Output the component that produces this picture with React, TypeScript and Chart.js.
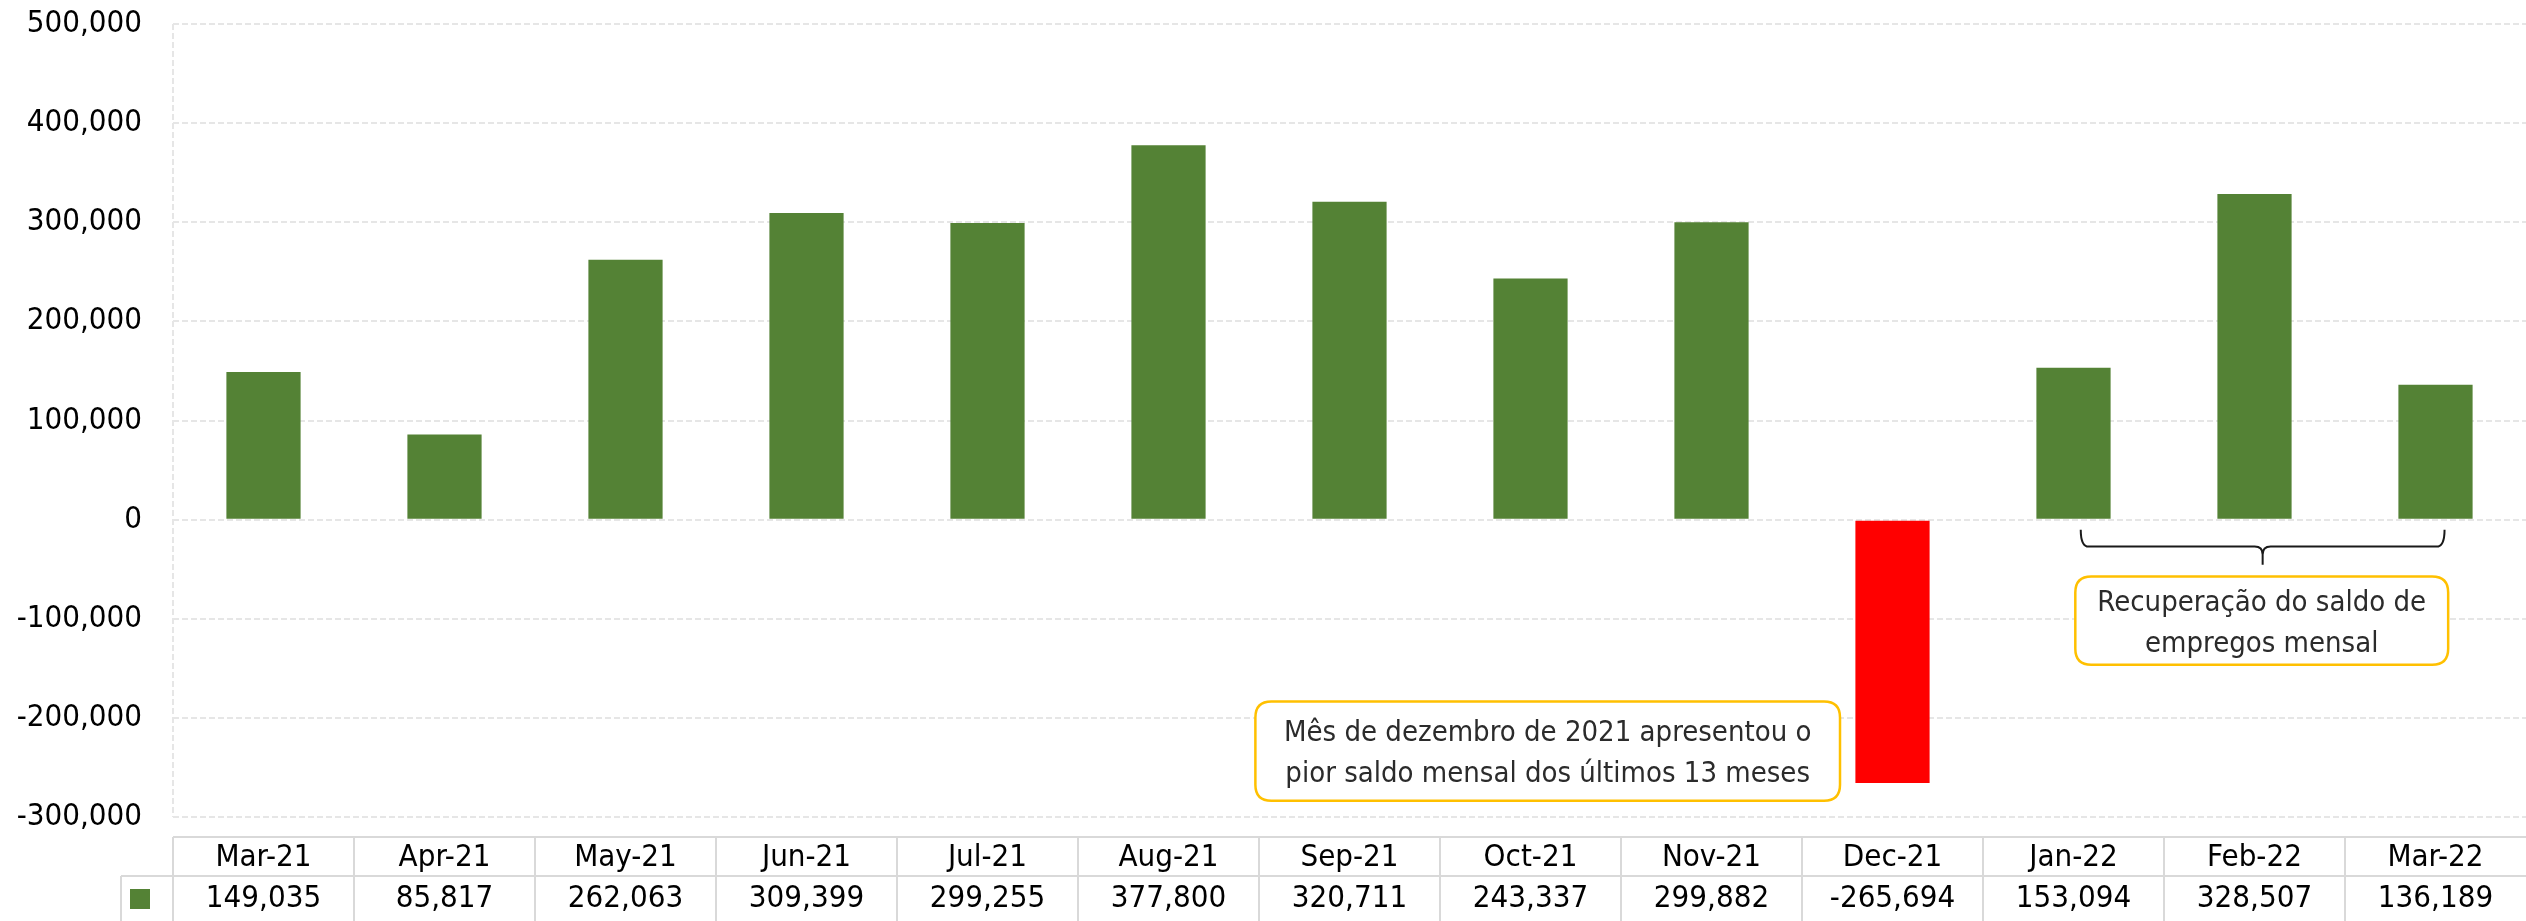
import React, { useEffect, useRef } from "react";
import { Chart, registerables } from "chart.js";

Chart.register(...registerables);

// ---- data ----
const months = [
  "Mar-21", "Apr-21", "May-21", "Jun-21", "Jul-21", "Aug-21", "Sep-21",
  "Oct-21", "Nov-21", "Dec-21", "Jan-22", "Feb-22", "Mar-22",
];
const saldo = [
  149035, 85817, 262063, 309399, 299255, 377800, 320711,
  243337, 299882, -265694, 153094, 328507, 136189,
];
const yMin = -300000;
const yMax = 500000;
const yStep = 100000;
const note1Lines = ["Mês de dezembro de 2021 apresentou o", "pior saldo mensal dos últimos 13 meses"];
const note2Lines = ["Recuperação do saldo de", "empregos mensal"];

// ---- styles ----
const GREEN = "#548235";
const RED = "#FF0000";
const GRID = "#e6e6e6";
const TABLE_LINE = "#d9d9d9";
const NOTE_BORDER = "#FFC000";
const FONT = '"DejaVu Sans Condensed", "DejaVu Sans", sans-serif';

const fmt = (v: number) => {
  const s = Math.abs(Math.round(v)).toString().replace(/\B(?=(\d{3})+(?!\d))/g, ",");
  return (v < 0 ? "-" : "") + s;
};

function roundRect(ctx: CanvasRenderingContext2D, x: number, y: number, w: number, h: number, r: number) {
  ctx.beginPath();
  ctx.moveTo(x + r, y);
  ctx.lineTo(x + w - r, y);
  ctx.quadraticCurveTo(x + w, y, x + w, y + r);
  ctx.lineTo(x + w, y + h - r);
  ctx.quadraticCurveTo(x + w, y + h, x + w - r, y + h);
  ctx.lineTo(x + r, y + h);
  ctx.quadraticCurveTo(x, y + h, x, y + h - r);
  ctx.lineTo(x, y + r);
  ctx.quadraticCurveTo(x, y, x + r, y);
  ctx.closePath();
}

function drawNote(ctx: CanvasRenderingContext2D, x: any, y: any, x0: number, x1: number, y0: number, y1: number, lines: string[]) {
  const left = x.getPixelForValue(x0);
  const right = x.getPixelForValue(x1);
  const top = y.getPixelForValue(y0);
  const bottom = y.getPixelForValue(y1);
  ctx.save();
  roundRect(ctx, left, top, right - left, bottom - top, 16);
  ctx.fillStyle = "#ffffff";
  ctx.fill();
  ctx.lineWidth = 2.5;
  ctx.strokeStyle = NOTE_BORDER;
  ctx.stroke();
  ctx.fillStyle = "#2b2b2b";
  ctx.font = `29px ${FONT}`;
  ctx.textAlign = "center";
  ctx.textBaseline = "middle";
  const cx = (left + right) / 2;
  const cy = (top + bottom) / 2 + 3;
  const lh = 41;
  lines.forEach((t, i) => {
    ctx.fillText(t, cx, cy + (i - (lines.length - 1) / 2) * lh);
  });
  ctx.restore();
}

const overlayPlugin = {
  id: "overlay",
  beforeDatasetsDraw(chart: any) {
    const { ctx, chartArea } = chart;
    ctx.save();
    ctx.strokeStyle = GRID;
    ctx.lineWidth = 2;
    ctx.setLineDash([6, 3]);
    ctx.beginPath();
    ctx.moveTo(chartArea.left, chartArea.top);
    ctx.lineTo(chartArea.left, chartArea.bottom);
    ctx.stroke();
    ctx.restore();
  },
  afterDraw(chart: any) {
    const { ctx, chartArea, scales } = chart;
    const x = scales.x;
    const y = scales.y;
    const n = months.length;
    const colW = (chartArea.right - chartArea.left) / n;

    // ---- data table ----
    const headTop = chartArea.bottom + 20;
    const rowDiv = chartArea.bottom + 59;
    const bottom = chart.height + 4;
    const keyLeft = chartArea.left - 52;
    ctx.save();
    ctx.strokeStyle = TABLE_LINE;
    ctx.lineWidth = 2;
    ctx.beginPath();
    ctx.moveTo(chartArea.left, headTop);
    ctx.lineTo(chartArea.right + 10, headTop);
    ctx.moveTo(keyLeft, rowDiv);
    ctx.lineTo(chartArea.right + 10, rowDiv);
    ctx.moveTo(keyLeft, rowDiv);
    ctx.lineTo(keyLeft, bottom);
    for (let i = 0; i < n; i++) {
      const lx = x.getPixelForValue(i) - colW / 2;
      ctx.moveTo(lx, headTop);
      ctx.lineTo(lx, bottom);
    }
    ctx.stroke();

    ctx.fillStyle = "#000000";
    ctx.font = `31px ${FONT}`;
    ctx.textAlign = "center";
    ctx.textBaseline = "middle";
    for (let i = 0; i < n; i++) {
      const cx = x.getPixelForValue(i);
      ctx.fillText(months[i], cx, (headTop + rowDiv) / 2 + 1);
      ctx.fillText(fmt(saldo[i]), cx, rowDiv + 23);
    }
    ctx.fillStyle = GREEN;
    ctx.fillRect(keyLeft + 9, rowDiv + 13, 20, 20);
    ctx.restore();

    // ---- annotations ----
    drawNote(ctx, x, y, 5.48, 8.71, -183600, -283500, note1Lines);
    drawNote(ctx, x, y, 10.01, 12.07, -57500, -146300, note2Lines);

    // brace
    const bx1 = x.getPixelForValue(10.04);
    const bx2 = x.getPixelForValue(12.05);
    const bcx = (bx1 + bx2) / 2;
    const bTop = y.getPixelForValue(-10100);
    const bMid = y.getPixelForValue(-27200);
    const bTip = y.getPixelForValue(-45400);
    const r = 8;
    ctx.save();
    ctx.strokeStyle = "#1a1a1a";
    ctx.lineWidth = 2;
    ctx.beginPath();
    ctx.moveTo(bx1, bTop);
    ctx.quadraticCurveTo(bx1, bMid, bx1 + r, bMid);
    ctx.lineTo(bcx - r, bMid);
    ctx.quadraticCurveTo(bcx, bMid, bcx, bMid + r);
    ctx.lineTo(bcx, bTip);
    ctx.moveTo(bx2, bTop);
    ctx.quadraticCurveTo(bx2, bMid, bx2 - r, bMid);
    ctx.lineTo(bcx + r, bMid);
    ctx.quadraticCurveTo(bcx, bMid, bcx, bMid + r);
    ctx.stroke();
    ctx.restore();
  },
};

export default function App() {
  const canvasRef = useRef<HTMLCanvasElement | null>(null);

  useEffect(() => {
    if (!canvasRef.current) return;
    const chart = new Chart(canvasRef.current, {
      type: "bar",
      data: {
        labels: months,
        datasets: [
          {
            label: "Saldo",
            data: saldo,
            backgroundColor: saldo.map((v) => (v < 0 ? RED : GREEN)),
            borderWidth: 0,
            categoryPercentage: 1,
            barPercentage: 0.41,
          },
        ],
      },
      options: {
        animation: false,
        responsive: false,
        devicePixelRatio: 1,
        layout: { padding: { top: 24, bottom: 104, left: 0, right: 0 } },
        plugins: {
          legend: { display: false },
          tooltip: { enabled: false },
        },
        scales: {
          x: { display: false },
          y: {
            min: yMin,
            max: yMax,
            ticks: {
              stepSize: yStep,
              padding: 0,
              color: "#000000",
              font: { family: FONT, size: 31 },
              callback: (v: any) => fmt(Number(v)),
            },
            grid: {
              color: GRID,
              lineWidth: 2,
              drawTicks: true,
              tickLength: 31,
              tickColor: "rgba(0,0,0,0)",
            },
            border: { display: false, dash: [6, 3] },
            afterFit: (scale: any) => {
              scale.width = 173;
            },
          },
        },
      },
      plugins: [overlayPlugin],
    });
    return () => chart.destroy();
  }, []);

  return (
    <div style={{ position: "absolute", left: 0, top: 0, width: 2526, height: 921, background: "#fff" }}>
      <canvas ref={canvasRef} width={2526} height={921} style={{ display: "block" }} />
    </div>
  );
}
